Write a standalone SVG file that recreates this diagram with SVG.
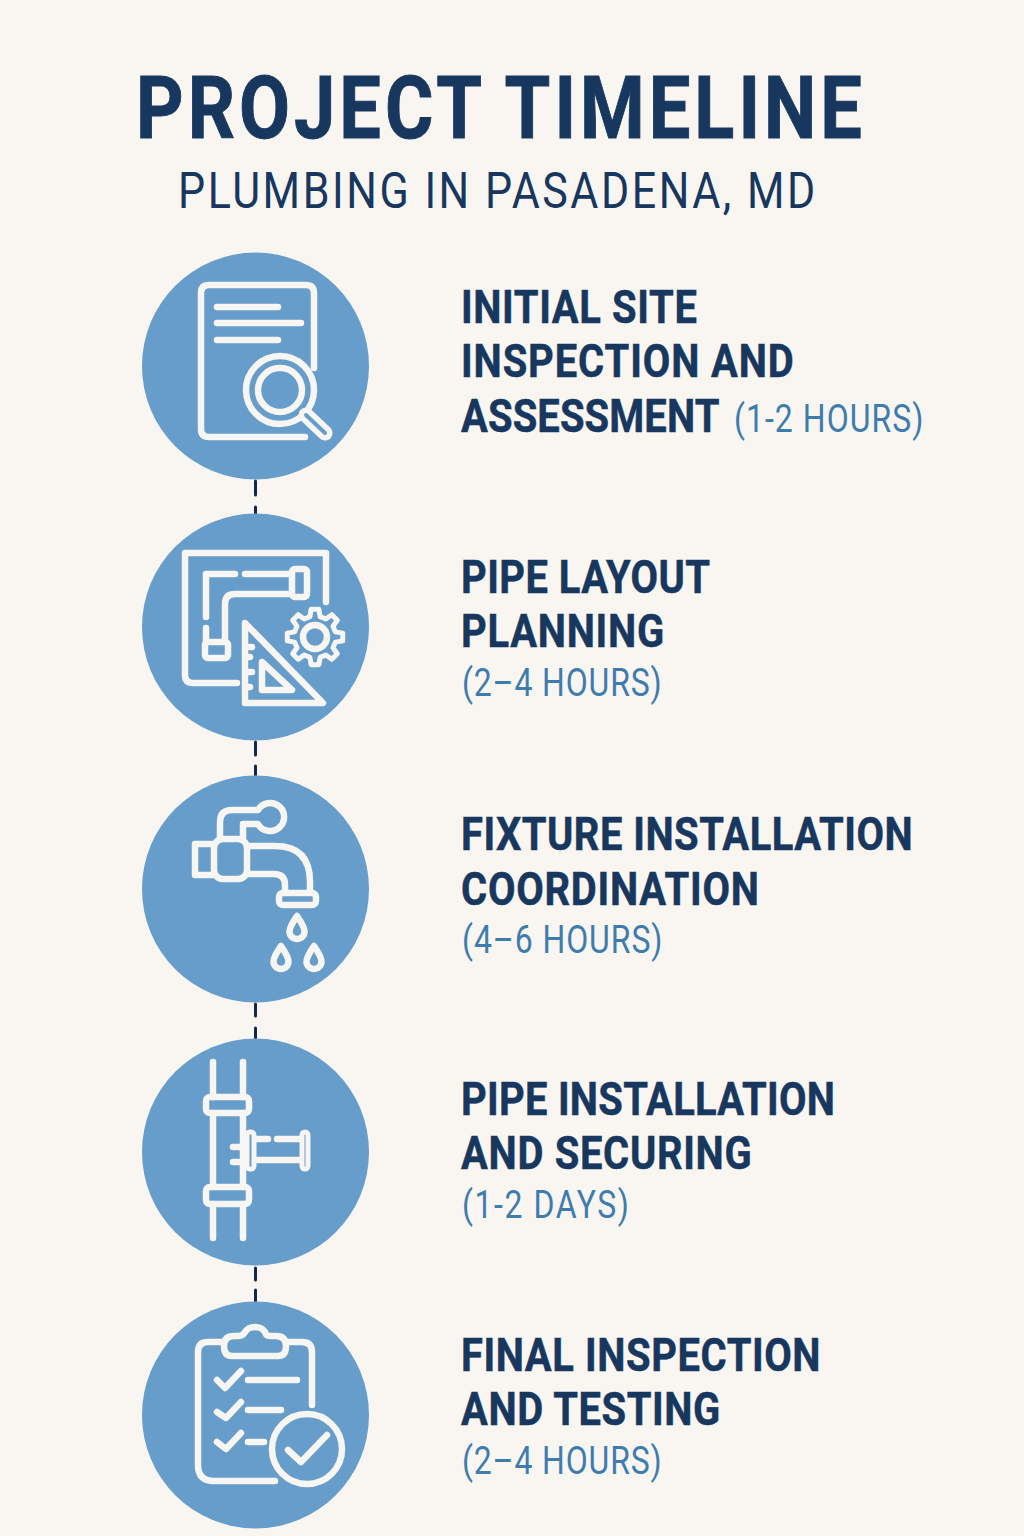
<svg xmlns="http://www.w3.org/2000/svg" xmlns:xlink="http://www.w3.org/1999/xlink" width="1024" height="1536" viewBox="0 0 1024 1536">
<style>
text{font-family:Roboto,"Liberation Sans",sans-serif}
.title{font-size:88px;font-weight:700;fill:#17375e;stroke:#17375e;stroke-width:1px}
.sub{font-size:50px;font-weight:400;fill:#17375e}
.h{font-size:47px;font-weight:700;fill:#17375e;stroke:#17375e;stroke-width:.5px}
.d{font-size:39px;font-weight:400;fill:#3f7cae}
.c{fill:#669dcb}
.i{fill:none;stroke:#f8f6f2;stroke-width:6.500;stroke-linecap:round;stroke-linejoin:round}
.conn{stroke:#12284a;stroke-width:3;fill:none;stroke-linecap:round}
</style>
<defs>
<path id="drop" d="M0-12C4-6 7.500-1 7.500 3.500A7.500 7.500 0 0 1-7.500 3.500C-7.500-1-4-6 0-12Z"/>
</defs>
<rect width="1024" height="1536" fill="#f9f6f1"/>
<g id="header">
<text class="title" transform="translate(136 137.500) scale(.84 1)" textLength="864">PROJECT TIMELINE</text>
<text class="sub" transform="translate(178 208) scale(.86 1)" textLength="741">PLUMBING IN PASADENA, MD</text>
</g>
<g id="connectors" class="conn">
<path d="M255.500 481V495M255.500 507V514M255.500 742V755M255.500 766V775M255.500 1004V1016M255.500 1028V1038M255.500 1268V1280M255.500 1290V1301"/>
</g>
<g id="step1">
<circle class="c" cx="255.500" cy="366" r="113.500"/>
<g class="i">
<path d="M314 368V293Q314 285 306 285H209Q201 285 201 293V429Q201 437 209 437H305"/>
<path d="M217 307H278M217 323H301M217 340H278"/>
<circle cx="280" cy="390" r="34"/>
<circle cx="280" cy="390" r="22"/>
<path d="M306 415L325 433" stroke-width="15"/>
<path d="M306 415L325 433" stroke="#669dcb" stroke-width="4"/>
</g>
<text class="h" transform="translate(461 323) scale(.85 1)" textLength="277.500">INITIAL SITE</text>
<text class="h" transform="translate(461 377) scale(.85 1)" textLength="391.500">INSPECTION AND</text>
<text class="h" transform="translate(461 431.500) scale(.85 1)" textLength="304">ASSESSMENT</text>
<text class="d" transform="translate(734 432) scale(.82 1)" textLength="231">(1-2 HOURS)</text>
</g>
<g id="step2">
<circle class="c" cx="255.500" cy="627" r="113.500"/>
<g class="i">
<path d="M326 602V553H185V675Q185 683 193 683H237"/>
<path d="M206 617V574H235M245 574H290M225 640V604Q225 594 235 594H290M206 628V642"/>
<rect x="292" y="569" width="15" height="28" rx="3"/>
<rect x="205" y="642" width="23" height="16" rx="3"/>
<path d="M245 623L323 703H245ZM245 647H252M245 657H250M245 672H252M245 687H250"/>
<path d="M262 662L292 690H262Z"/>
<path transform="translate(315 637)" stroke-width="5" d="M-5.100-20.400L-3.900-27.700L3.900-27.700L5.100-20.400L10.800-18L16.800-22.300L22.300-16.800L18-10.800L20.400-5.100L27.700-3.900L27.700 3.900L20.400 5.100L18 10.800L22.300 16.800L16.800 22.300L10.800 18L5.100 20.400L3.900 27.700L-3.900 27.700L-5.100 20.400L-10.800 18L-16.800 22.300L-22.300 16.800L-18 10.800L-20.400 5.100L-27.700 3.900L-27.700-3.900L-20.400-5.100L-18-10.800L-22.300-16.800L-16.800-22.300L-10.800-18Z"/>
<circle cx="315" cy="637" r="12"/>
</g>
<text class="h" transform="translate(461 593) scale(.85 1)" textLength="293">PIPE LAYOUT</text>
<text class="h" transform="translate(461 647) scale(.85 1)" textLength="239">PLANNING</text>
<text class="d" transform="translate(462 696) scale(.82 1)" textLength="243.500">(2–4 HOURS)</text>
</g>
<g id="step3">
<circle class="c" cx="255.500" cy="889" r="113.500"/>
<g class="i">
<rect x="214" y="839" width="33" height="40" rx="9"/>
<path d="M214 844H195V875H214"/>
<path d="M247 846H275Q310 846 310 882V892M247 874H274Q285 874 285 885V892"/>
<rect x="279" y="893" width="37" height="12" rx="4"/>
<path d="M220 838V822Q220 810 232 810H258A14 14 0 1 1 258 824H243V838"/>
<g stroke-width="6.500">
<use xlink:href="#drop" href="#drop" x="297" y="928"/>
<use xlink:href="#drop" href="#drop" x="281" y="958"/>
<use xlink:href="#drop" href="#drop" x="314" y="958"/>
</g>
</g>
<text class="h" transform="translate(461 850) scale(.85 1)" textLength="531.500">FIXTURE INSTALLATION</text>
<text class="h" transform="translate(461 905) scale(.85 1)" textLength="350.500">COORDINATION</text>
<text class="d" transform="translate(462 953) scale(.82 1)" textLength="244.500">(4–6 HOURS)</text>
</g>
<g id="step4">
<circle class="c" cx="255.500" cy="1152" r="113.500"/>
<g class="i">
<path d="M213 1062V1097M243 1062V1097M213 1113V1187M243 1113V1187M213 1204V1238M243 1204V1238"/>
<rect x="206" y="1097" width="43" height="16" rx="4"/>
<rect x="206" y="1187" width="43" height="17" rx="4"/>
<rect x="247" y="1132" width="7" height="37" rx="3" stroke-width="5"/>
<path d="M257 1139H268M277 1139H300M255 1160H300M233 1147H245M233 1162H245"/>
<rect x="302" y="1132" width="6" height="37" rx="3" stroke-width="5"/>
</g>
<text class="h" transform="translate(461 1115) scale(.85 1)" textLength="440">PIPE INSTALLATION</text>
<text class="h" transform="translate(461 1169) scale(.85 1)" textLength="342">AND SECURING</text>
<text class="d" transform="translate(462 1218) scale(.82 1)" textLength="203.500">(1-2 DAYS)</text>
</g>
<g id="step5">
<circle class="c" cx="255.500" cy="1415" r="113.500"/>
<g class="i">
<path d="M312 1405V1352Q312 1342 302 1342H287M223 1342H208Q198 1342 198 1352V1465Q198 1481 214 1481H275"/>
<path d="M232 1356H278Q286 1356 286 1346Q286 1336 276 1336H270Q266 1336 265 1332Q262 1327 255 1327Q248 1327 245 1332Q243 1336 238 1336H234Q224 1336 224 1346Q224 1356 232 1356Z"/>
<path d="M217 1380L225 1388L241 1371M217 1412L226 1418L241 1402M217 1442L226 1449L241 1433M248 1380H297M248 1410H281M248 1442H264"/>
<circle cx="307" cy="1449" r="35"/>
<path d="M288 1450L301 1462L327 1435"/>
</g>
<text class="h" transform="translate(461 1371) scale(.85 1)" textLength="423">FINAL INSPECTION</text>
<text class="h" transform="translate(461 1425) scale(.85 1)" textLength="305">AND TESTING</text>
<text class="d" transform="translate(462 1473.500) scale(.82 1)" textLength="243.500">(2–4 HOURS)</text>
</g>
</svg>
